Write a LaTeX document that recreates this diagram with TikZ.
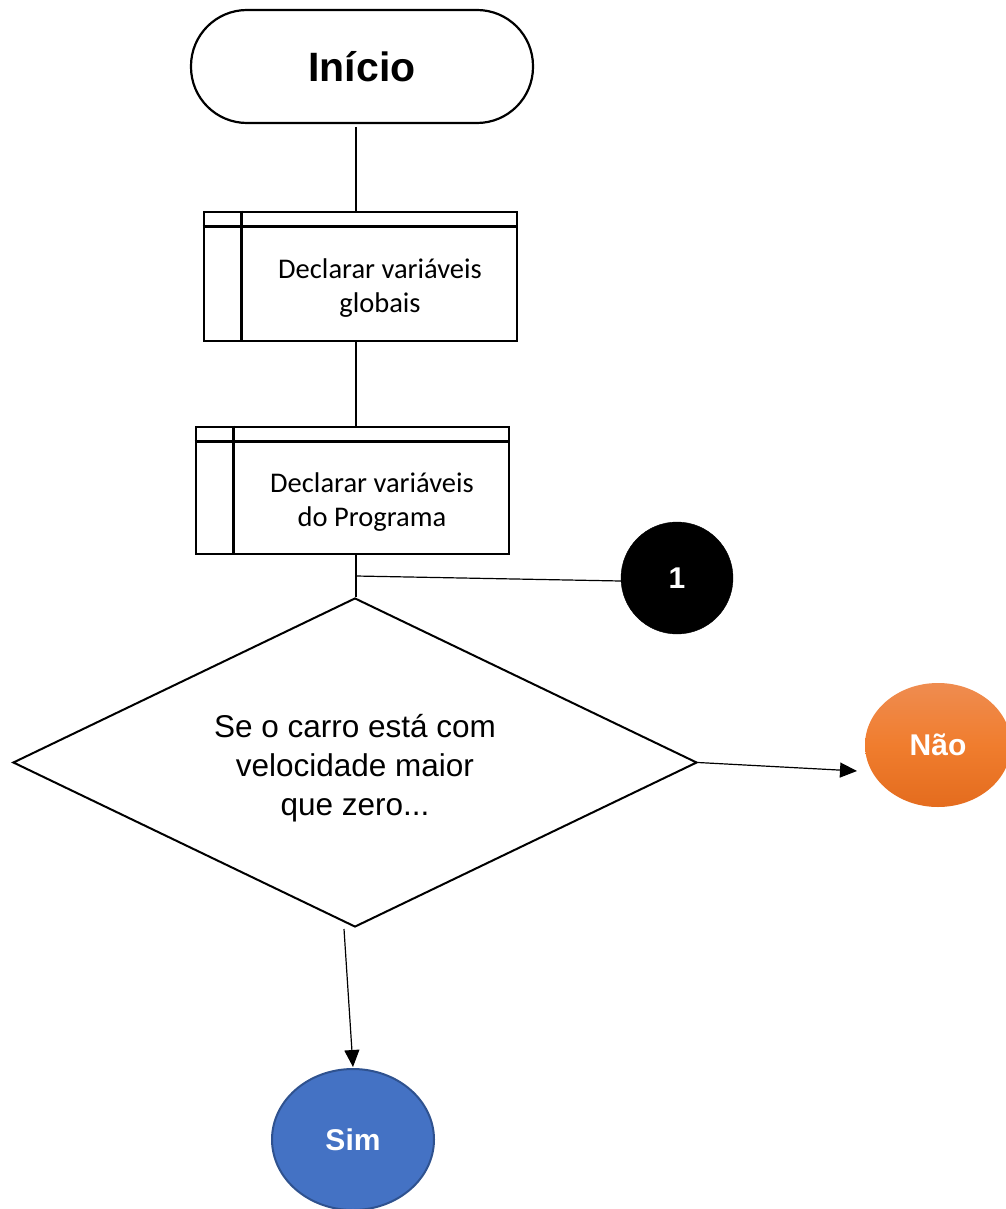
\documentclass[tikz,border=0pt]{standalone}
\usepackage{fontspec}
\setmainfont{Liberation Sans}
\newfontfamily\boxfont{Carlito}
\usetikzlibrary{shapes.geometric,arrows.meta}

\definecolor{naotop}{RGB}{239,140,80}
\definecolor{naomid}{RGB}{240,125,46}
\definecolor{naobot}{RGB}{228,108,30}
\definecolor{simfill}{RGB}{68,114,196}
\definecolor{simedge}{RGB}{47,82,143}

\tikzset{
  terminal/.style={draw, line width=2.2pt, rounded corners=56pt,
    minimum width=342pt, minimum height=113pt, inner sep=0pt,
    font=\fontsize{41}{48}\selectfont\bfseries},
  procbox/.style={draw, line width=2.6pt, minimum width=313pt, inner sep=0pt},
  proctext/.style={font=\boxfont\fontsize{28.5}{34}\selectfont, align=center},
  decision/.style={diamond, draw, line width=2pt, inner sep=0pt,
    shape aspect=2.079, minimum width=684pt, minimum height=329pt},
  dectext/.style={font=\fontsize{31.5}{39}\selectfont, align=center},
  connector/.style={line width=1.2pt},
  arrowline/.style={line width=1.2pt, -{Triangle[length=17pt,width=15pt]}},
  outcome/.style={ellipse, inner sep=0pt, text=white,
    font=\fontsize{30}{36}\selectfont\bfseries},
}

\begin{document}
\begin{tikzpicture}[x=1pt,y=-1pt]
\useasboundingbox (0,0) rectangle (1005,1209);

% start terminal
\node[terminal] (inicio) at (362,66.5) {Início};

% first predefined process
\node[procbox, minimum height=129pt] (glob) at (360.5,276.5) {};
\draw[line width=2.6pt] ([yshift=-16pt]glob.north west) -- ([yshift=-16pt]glob.north east);
\draw[line width=2.6pt] ([xshift=39pt]glob.north west) -- ([xshift=39pt]glob.south west);
\node[proctext] (globtxt) at (380,288) {Declarar variáveis\\globais};

% second predefined process
\node[procbox, minimum height=127pt] (prog) at (352.5,490.5) {};
\draw[line width=2.6pt] ([yshift=-16pt]prog.north west) -- ([yshift=-16pt]prog.north east);
\draw[line width=2.6pt] ([xshift=39pt]prog.north west) -- ([xshift=39pt]prog.south west);
\node[proctext] (progtxt) at (372,502.5) {Declarar variáveis\\do Programa};

% decision
\node[decision] (dec) at (355,762.5) {};
\node[dectext] (dectxt) at (355,768) {Se o carro está com\\velocidade maior\\que zero...};

% on-page connector
\node[circle, fill=black, draw=black, minimum size=112pt, inner sep=0pt,
  text=white, font=\fontsize{30}{36}\selectfont\bfseries] (c1) at (677,578) {1};

% outcomes
\node[outcome, minimum width=146pt, minimum height=124pt,
  top color=naotop, bottom color=naobot, middle color=naomid] (nao) at (938,745) {Não};
\node[outcome, minimum width=162pt, minimum height=141pt,
  fill=simfill, draw=simedge, line width=2pt] (sim) at (353,1139.5) {Sim};

% connectors
\coordinate (topin) at (356,127);
\coordinate (joint) at (356,576);
\coordinate (naoin) at (857,771);
\coordinate (simout) at (344,929);

\draw[connector] (topin) -- (topin |- glob.north);
\draw[connector] (glob.south -| topin) -- (prog.north -| topin);
\draw[connector] (prog.south -| topin) -- (dec.north -| topin);
\draw[connector] (joint) -- (c1.west |- 0,581);
\draw[arrowline] (dec.east) -- (naoin);
\draw[arrowline] (simout) -- ([yshift=1pt]sim.north);
\end{tikzpicture}
\end{document}
